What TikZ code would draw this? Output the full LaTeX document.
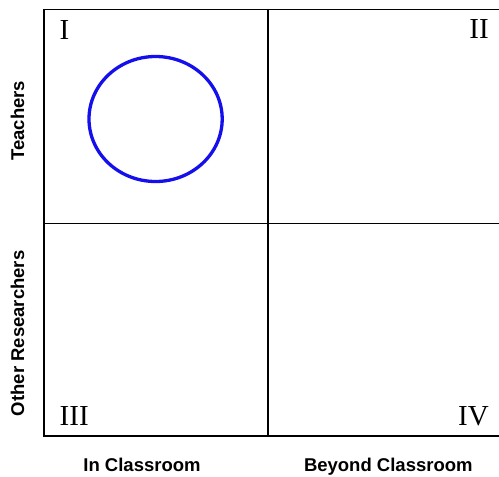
\documentclass[tikz,border=0pt]{standalone}
\usepackage{fontspec}
\setmainfont{Liberation Serif}
\setsansfont{Liberation Sans}
\begin{document}
\begin{tikzpicture}[x=1pt,y=-1pt,
  gridline/.style={line width=1.7pt,black},
  numeral/.style={font=\fontsize{29}{29}\selectfont\rmfamily,inner sep=0pt},
  axislabel/.style={font=\fontsize{18.5}{18.5}\selectfont\sffamily\bfseries,inner sep=0pt}]
\useasboundingbox (0,0) rectangle (499,477);
% frame
\draw[gridline] (501,9.5) -- (44,9.5) -- (44,436) -- (501,436);
\draw[gridline] (268,9.5) -- (268,436);
\draw[gridline] (44,223.5) -- (501,223.5);
% circle
\draw[line width=3.3pt,color={rgb,255:red,20;green,15;blue,235}] (155.6,119) ellipse [x radius=66.6, y radius=62.5];
% numerals
\node[numeral,anchor=base west] (q1) at (59.5,39) {I};
\node[numeral,anchor=base east] (q2) at (489,38.5) {II};
\node[numeral,anchor=base west] (q3) at (59.5,425) {III};
\node[numeral,anchor=base east] (q4) at (489,425) {IV};
% axis labels
\node[axislabel,anchor=base] (xa) at (142,471.5) {In Classroom};
\node[axislabel,anchor=base] (xb) at (388.3,471.5) {Beyond Classroom};
\node[axislabel,anchor=base,rotate=90] (ya) at (24,120.7) {Teachers};
\node[axislabel,anchor=base,rotate=90] (yb) at (24,333.3) {Other Researchers};
\end{tikzpicture}
\end{document}
